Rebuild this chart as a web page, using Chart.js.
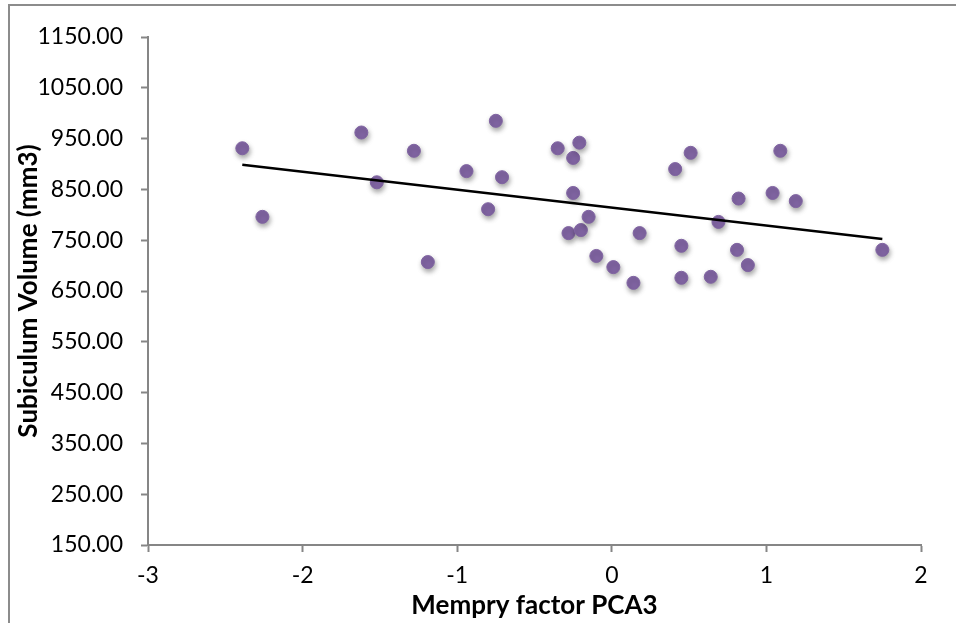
<!DOCTYPE html>
<html>
<head>
<meta charset="utf-8">
<script src="https://cdn.jsdelivr.net/npm/chart.js@4.4.0/dist/chart.umd.min.js"></script>
<style>
  html, body { margin: 0; padding: 0; background: #fff; }
  #wrap { width: 956px; height: 623px; position: relative; }
</style>
</head>
<body>
<div id="wrap"><canvas id="chart" width="956" height="623"></canvas></div>
<script>
// memory factor (PCA3) vs subiculum volume
const memoryFactor = [
    -2.39, -2.26, -1.62, -1.52, -1.28, -1.19, -0.94, -0.80, -0.75, -0.71,
    -0.35, -0.28, -0.25, -0.25, -0.21, -0.20, -0.15, -0.10, 0.01, 0.14,
    0.18, 0.41, 0.45, 0.45, 0.51, 0.64, 0.69, 0.81, 0.82, 0.88,
    1.04, 1.09, 1.19, 1.75
];
const subiculumVolume = [
    931, 796, 962, 864, 926, 707, 886, 811, 985, 874,
    931, 764, 912, 843, 942, 770, 796, 719, 697, 666,
    764, 890, 676, 739, 922, 678, 786, 731, 832, 701,
    843, 926, 827, 731
];
const yTicks = [150, 250, 350, 450, 550, 650, 750, 850, 950, 1050, 1150];
const xTicks = [-3, -2, -1, 0, 1, 2];

const points = memoryFactor.map((x, i) => ({x: x, y: subiculumVolume[i]}));

// linear trendline over the data range
function trendLine(xs, ys) {
    const n = xs.length;
    const mx = xs.reduce((a, b) => a + b, 0) / n;
    const my = ys.reduce((a, b) => a + b, 0) / n;
    let sxy = 0, sxx = 0;
    for (let i = 0; i < n; i++) {
        sxy += (xs[i] - mx) * (ys[i] - my);
        sxx += (xs[i] - mx) * (xs[i] - mx);
    }
    const slope = sxy / sxx;
    const icpt = my - slope * mx;
    const x0 = Math.min(...xs), x1 = Math.max(...xs);
    return [{x: x0, y: icpt + slope * x0}, {x: x1, y: icpt + slope * x1}];
}

const frame = {
    id: 'frame',
    beforeDraw(chart) {
        const c = chart.ctx;
        c.save();
        c.fillStyle = '#fff';
        c.fillRect(0, 0, chart.width, chart.height);
        c.strokeStyle = '#8c8c8c';
        c.lineWidth = 2;
        c.beginPath();
        c.moveTo(9, chart.height);
        c.lineTo(9, 5);
        c.lineTo(chart.width, 5);
        c.stroke();
        c.restore();
    },
    beforeDatasetDraw(chart, args) {
        if (args.index === 1) {
            const c = chart.ctx;
            c.save();
            c.shadowColor = 'rgba(0,0,0,0.35)';
            c.shadowBlur = 5;
            c.shadowOffsetX = 1;
            c.shadowOffsetY = 3;
        }
    },
    afterDatasetDraw(chart, args) {
        if (args.index === 1) chart.ctx.restore();
    }
};

const font = "Lato, 'Open Sans', sans-serif";
const axisGray = '#868686';

new Chart(document.getElementById('chart').getContext('2d'), {
    type: 'scatter',
    data: {
        datasets: [
            {
                type: 'line',
                label: 'Trend',
                data: trendLine(memoryFactor, subiculumVolume),
                borderColor: '#000',
                borderWidth: 2.5,
                pointRadius: 0,
                fill: false,
                order: 0
            },
            {
                label: 'Subiculum',
                data: points,
                backgroundColor: '#8064A2',
                borderColor: '#8064A2',
                pointRadius: 6.5,
                pointHoverRadius: 6.5,
                order: 1
            }
        ]
    },
    options: {
        responsive: false,
        animation: false,
        layout: {padding: {left: 10, top: 37, right: 35, bottom: 0}},
        plugins: {legend: {display: false}, tooltip: {enabled: false}},
        scales: {
            x: {
                type: 'linear',
                min: -3,
                max: 2,
                afterBuildTicks: (s) => { s.ticks = xTicks.map((v) => ({value: v})); },
                afterFit: (s) => { s.height = 78; },
                border: {color: axisGray, width: 2},
                grid: {drawOnChartArea: false, color: axisGray, tickLength: 7, tickWidth: 2},
                ticks: {color: '#000', font: {family: font, size: 23}, padding: 10},
                title: {
                    display: true,
                    text: 'Mempry factor PCA3',
                    color: '#000',
                    font: {family: font, size: 26, weight: 'bold'},
                    padding: {top: 0, bottom: 2}
                }
            },
            y: {
                type: 'linear',
                min: 150,
                max: 1150,
                afterBuildTicks: (s) => { s.ticks = yTicks.map((v) => ({value: v})); },
                afterFit: (s) => { s.width = 138; },
                border: {color: axisGray, width: 2},
                grid: {drawOnChartArea: false, color: axisGray, tickLength: 7, tickWidth: 2},
                ticks: {
                    color: '#000',
                    font: {family: font, size: 23},
                    padding: 18,
                    callback: (v) => v.toFixed(2)
                },
                title: {
                    display: true,
                    text: 'Subiculum Volume (mm3)',
                    color: '#000',
                    font: {family: font, size: 26, weight: 'bold'},
                    padding: {top: 3, bottom: 0}
                }
            }
        }
    },
    plugins: [frame]
});
</script>
</body>
</html>
